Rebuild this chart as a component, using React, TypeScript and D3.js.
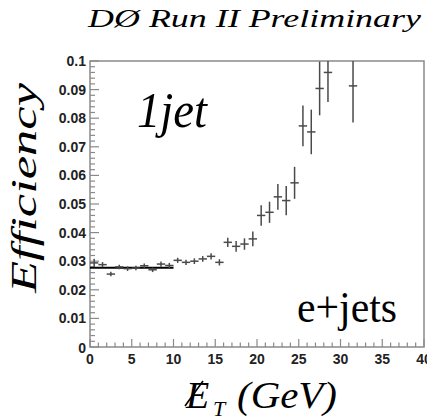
import React from "react";
import * as d3 from "d3";

const binCenters = [0.5,1.5,2.5,3.5,4.5,5.5,6.5,7.5,8.5,9.5,10.5,11.5,12.5,13.5,14.5,15.5,16.5,17.5,18.5,19.5,20.5,21.5,22.5,23.5,24.5,25.5,26.5,27.5,28.5,31.5];
const efficiency = [0.0294,0.0288,0.0255,0.0280,0.0274,0.0276,0.0284,0.0270,0.0290,0.0285,0.0303,0.0296,0.0300,0.0308,0.0317,0.0296,0.0366,0.0352,0.0360,0.0378,0.0460,0.0471,0.0525,0.0512,0.0574,0.0773,0.0752,0.0904,0.0960,0.0913];
const errors = [0.0015,0.0009,0.0008,0.0008,0.0008,0.0008,0.0008,0.0008,0.0009,0.0009,0.0009,0.0009,0.0010,0.0010,0.0011,0.0011,0.0016,0.0019,0.0020,0.0026,0.0036,0.0037,0.0045,0.0051,0.0056,0.0071,0.0078,0.0094,0.0103,0.0128];
const binHalfWidth = 0.5;
const fitValue = 0.0277;
const fitRange = [0, 10];
const xTicks = [0,5,10,15,20,25,30,35,40];
const yTicks = [0,0.01,0.02,0.03,0.04,0.05,0.06,0.07,0.08,0.09,0.1];
const yTickLabels = ["0","0.01","0.02","0.03","0.04","0.05","0.06","0.07","0.08","0.09","0.1"];

export default function App() {
  const L = 90, R = 424, T = 61, B = 347;
  const x = d3.scaleLinear().domain([0, 40]).range([L, R]);
  const y = d3.scaleLinear().domain([0, 0.1]).range([B, T]);
  const clipY = (v: number) => Math.max(T, Math.min(B, y(v)));
  const xMinor = d3.range(0, 41, 1);
  const yMinor = d3.range(0, 0.1001, 0.002);
  const axisColor = "#8a8a8a";
  const markColor = "#4a4a4a";
  return (
    <svg width={435} height={420} fontFamily="Liberation Serif">
      <g transform="translate(-8,-8)">
        <text x={88} y={27} fontFamily="Liberation Serif" fontStyle="italic" fontSize={26} textLength={333} lengthAdjust="spacingAndGlyphs">DØ Run II Preliminary</text>

        <rect x={L} y={T} width={R - L} height={B - T} fill="none" stroke={axisColor} strokeWidth={1.5} />

        {yMinor.map((v, i) => {
          const major = i % 5 === 0;
          return <line key={"ym" + i} x1={L} x2={L + (major ? 9 : 5)} y1={y(v)} y2={y(v)} stroke={axisColor} strokeWidth={1.2} />;
        })}
        {yTicks.map((v, i) => (
          <text key={"yl" + i} x={86} y={y(v) + 5 + (i === 0 ? 1 : 0)} textAnchor="end" fontFamily="Liberation Sans" fontWeight="bold" fontSize={14} fill="#222">{yTickLabels[i]}</text>
        ))}

        {xMinor.map((v, i) => {
          const major = v % 5 === 0;
          return <line key={"xm" + i} x1={x(v)} x2={x(v)} y1={B} y2={B - (major ? 8 : 4.5)} stroke={axisColor} strokeWidth={1.2} />;
        })}
        {xTicks.map((v, i) => (
          <text key={"xl" + i} x={x(v)} y={364} textAnchor="middle" fontFamily="Liberation Sans" fontWeight="bold" fontSize={14} fill="#222">{String(v)}</text>
        ))}

        <line x1={x(fitRange[0])} x2={x(fitRange[1])} y1={y(fitValue)} y2={y(fitValue)} stroke="#000" strokeWidth={2} />

        {binCenters.map((c, i) => {
          const v = efficiency[i];
          const e = errors[i];
          return (
            <g key={"p" + i} stroke={markColor} strokeWidth={1.5}>
              <line x1={x(c - binHalfWidth)} x2={x(c + binHalfWidth)} y1={y(v)} y2={y(v)} />
              <line x1={x(c)} x2={x(c)} y1={clipY(v - e)} y2={clipY(v + e)} />
            </g>
          );
        })}

        <text x={137} y={127} fontFamily="Liberation Serif" fontStyle="italic" fontSize={50} textLength={70} lengthAdjust="spacingAndGlyphs">1jet</text>
        <text x={297} y={322} fontFamily="Liberation Serif" fontSize={44} textLength={100} lengthAdjust="spacingAndGlyphs">e+jets</text>

        <text transform="translate(36,293) rotate(-90)" fontFamily="Liberation Serif" fontStyle="italic" fontSize={36} textLength={210} lengthAdjust="spacingAndGlyphs">Efficiency</text>

        <text x={186} y={408} fontFamily="Liberation Serif" fontStyle="italic" fontSize={38}>E</text>
        <line x1={185} y1={406} x2={203} y2={381} stroke="#000" strokeWidth={1.6} />
        <text x={213} y={416} fontFamily="Liberation Serif" fontStyle="italic" fontSize={22}>T</text>
        <text x={237} y={408} fontFamily="Liberation Serif" fontStyle="italic" fontSize={38} textLength={100} lengthAdjust="spacingAndGlyphs">(GeV)</text>
      </g>
    </svg>
  );
}
